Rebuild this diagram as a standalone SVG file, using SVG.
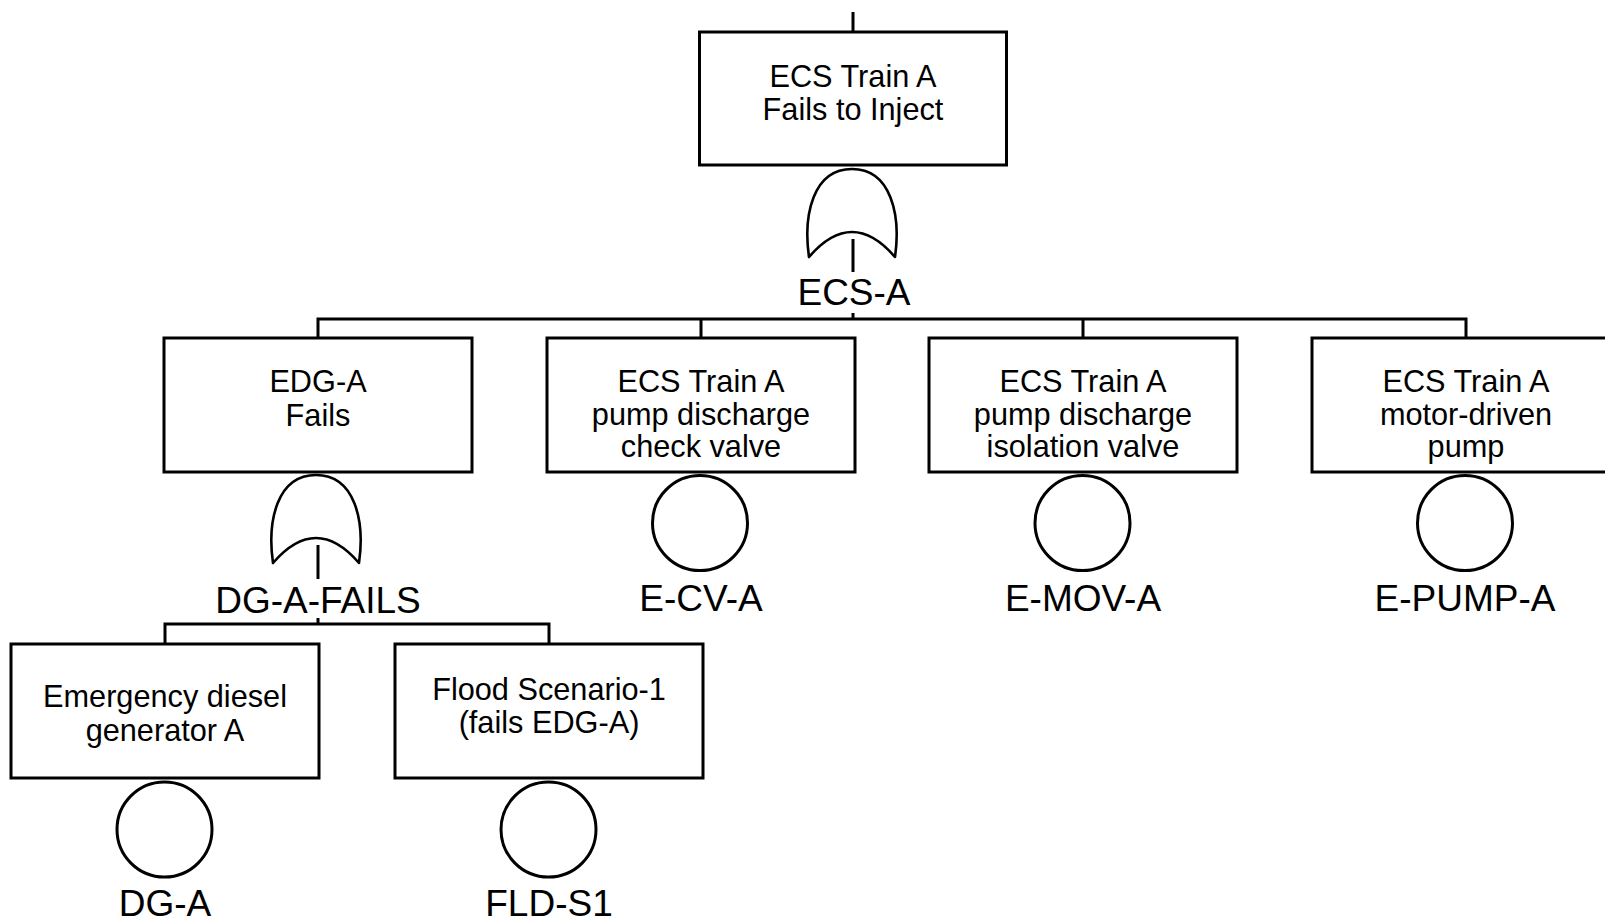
<svg xmlns="http://www.w3.org/2000/svg" xmlns:xlink="http://www.w3.org/1999/xlink" width="1605" height="922" viewBox="0 0 1605 922">
  <style>
    .box { fill: #fff; stroke: #000; stroke-width: 3; }
    .gate { fill: #fff; stroke: #000; stroke-width: 2.6; stroke-linejoin: round; }
    .basic { fill: #fff; stroke: #000; stroke-width: 3; }
    .wire { fill: none; stroke: #000; stroke-width: 3; }
    .desc { font-family: "Liberation Sans", Arial, sans-serif; font-size: 30.7px; fill: #000; text-anchor: middle; }
    .tag { font-family: "Liberation Sans", Arial, sans-serif; font-size: 37px; fill: #000; text-anchor: middle; }
  </style>
  <defs>
    <!-- OR gate outline, apex at origin -->
    <path id="orGate" d="M -43,88 C -49,46 -39,0 0,0 C 39,0 49,46 43,88 Q 0,38 -43,88 Z"/>
  </defs>
  <rect width="1605" height="922" fill="#fff"/>

  <!-- connectors -->
  <g id="connectors" class="wire">
    <path d="M 853,12 V 32"/>
    <path d="M 853,239 V 272"/>
    <path d="M 853,313 V 319"/>
    <path d="M 318,338 V 319 H 1466 V 338"/>
    <path d="M 701,319 V 338"/>
    <path d="M 1083,319 V 338"/>
    <path d="M 318,545 V 579"/>
    <path d="M 318,618 V 624"/>
    <path d="M 165,644 V 624 H 549 V 644"/>
  </g>

  <!-- top event -->
  <g id="ecs-a">
    <rect class="box" x="699.5" y="32" width="307" height="133"/>
    <text class="desc" x="853" y="87">ECS Train A</text>
    <text class="desc" x="853" y="120">Fails to Inject</text>
    <use href="#orGate" xlink:href="#orGate" class="gate" transform="translate(852,169)"/>
    <text class="tag" x="854" y="305">ECS-A</text>
  </g>

  <!-- EDG-A fails -->
  <g id="dg-a-fails">
    <rect class="box" x="164" y="338" width="308" height="134"/>
    <text class="desc" x="318" y="392">EDG-A</text>
    <text class="desc" x="318" y="426">Fails</text>
    <use href="#orGate" xlink:href="#orGate" class="gate" transform="translate(316,475)"/>
    <text class="tag" x="318" y="613">DG-A-FAILS</text>
  </g>

  <!-- check valve -->
  <g id="e-cv-a">
    <rect class="box" x="547" y="338" width="308" height="134"/>
    <text class="desc" x="701" y="392">ECS Train A</text>
    <text class="desc" x="701" y="424.5">pump discharge</text>
    <text class="desc" x="701" y="457">check valve</text>
    <circle class="basic" cx="700" cy="523" r="47.5"/>
    <text class="tag" x="701" y="611">E-CV-A</text>
  </g>

  <!-- isolation valve -->
  <g id="e-mov-a">
    <rect class="box" x="929" y="338" width="308" height="134"/>
    <text class="desc" x="1083" y="392">ECS Train A</text>
    <text class="desc" x="1083" y="424.5">pump discharge</text>
    <text class="desc" x="1083" y="457">isolation valve</text>
    <circle class="basic" cx="1082.5" cy="523" r="47.5"/>
    <text class="tag" x="1083" y="611">E-MOV-A</text>
  </g>

  <!-- motor-driven pump -->
  <g id="e-pump-a">
    <rect class="box" x="1312" y="338" width="308" height="134"/>
    <text class="desc" x="1466" y="392">ECS Train A</text>
    <text class="desc" x="1466" y="424.5">motor-driven</text>
    <text class="desc" x="1466" y="457">pump</text>
    <circle class="basic" cx="1465" cy="523" r="47.5"/>
    <text class="tag" x="1465" y="611">E-PUMP-A</text>
  </g>

  <!-- diesel generator -->
  <g id="dg-a">
    <rect class="box" x="11" y="644" width="308" height="134"/>
    <text class="desc" x="165" y="707">Emergency diesel</text>
    <text class="desc" x="165" y="741">generator A</text>
    <circle class="basic" cx="164.5" cy="829.5" r="47.5"/>
    <text class="tag" x="165" y="916">DG-A</text>
  </g>

  <!-- flood scenario -->
  <g id="fld-s1">
    <rect class="box" x="395" y="644" width="308" height="134"/>
    <text class="desc" x="549" y="700">Flood Scenario-1</text>
    <text class="desc" x="549" y="733">(fails EDG-A)</text>
    <circle class="basic" cx="548.5" cy="829.5" r="47.5"/>
    <text class="tag" x="549" y="916">FLD-S1</text>
  </g>
</svg>
